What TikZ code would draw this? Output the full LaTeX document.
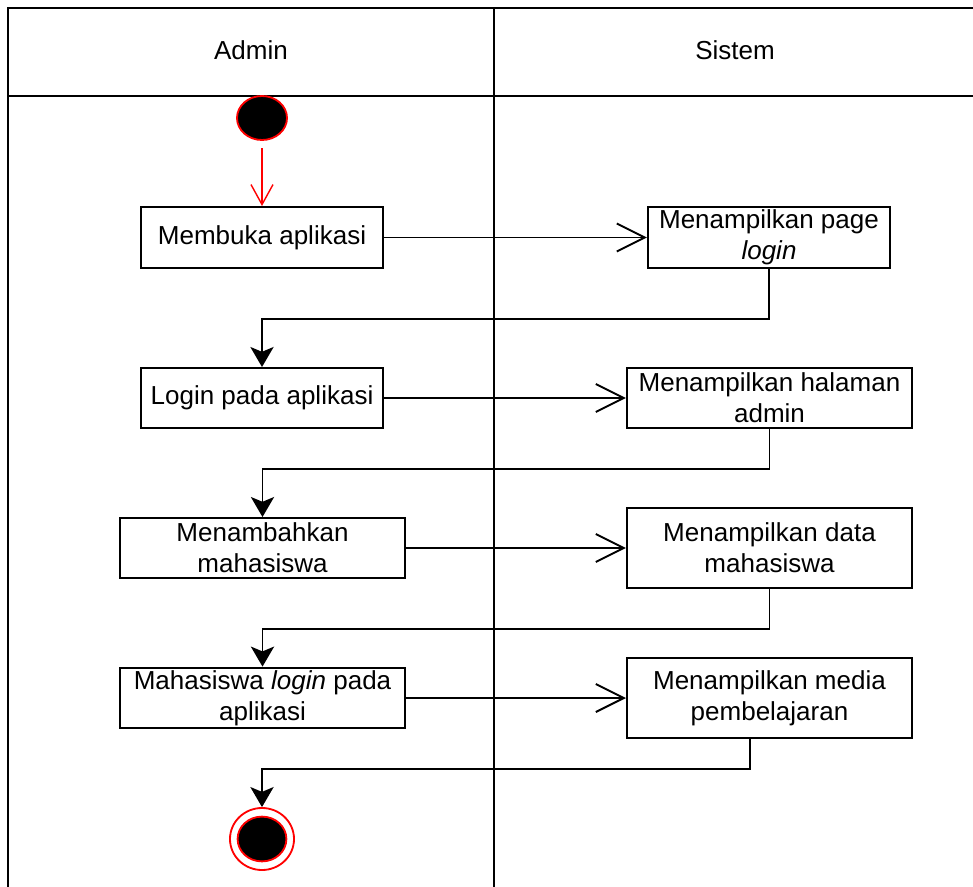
\documentclass[tikz,border=0pt]{standalone}
\usepackage{fontspec}
\setmainfont{Liberation Sans}
\usetikzlibrary{arrows.meta,shapes.geometric}

\begin{document}
\begin{tikzpicture}[x=0.025cm,y=-0.025cm,
        act/.style={draw, line width=1.4pt, align=center, inner sep=2pt,
            font=\fontsize{18.5}{22}\selectfont},
        lane/.style={font=\fontsize{18.5}{22}\selectfont},
        flow/.style={line width=1.4pt, -{Straight Barb[length=0.7cm,width=0.7cm]}},
        back/.style={line width=1.4pt, -{Stealth[length=0.5cm,width=0.58cm,inset=0.12cm]}}]
        \useasboundingbox (0,0) rectangle (973,887);

        % swimlanes
        \draw[line width=1.4pt] (973,8) -- (8,8) -- (8,887);
        \draw[line width=1.4pt] (8,96) -- (973,96);
        \draw[line width=1.4pt] (494,8) -- (494,887);
        \node[lane] (admin) at (251,50) {Admin};
        \node[lane] (sistem) at (735,50) {Sistem};

        \node[ellipse, draw=red, fill=black, line width=1.3pt, inner sep=0pt,
            minimum width=1.25cm, minimum height=1.1cm] (start) at (262,118) {};

        \node[act, minimum width=6.05cm, minimum height=1.525cm] (buka) at (262,237.5) {Membuka aplikasi};
        \node[act, minimum width=6.05cm, minimum height=1.525cm] (page) at (769,237.5) {Menampilkan page\\\textit{login}};
        \node[act, minimum width=6.05cm, minimum height=1.5cm] (login) at (262,398) {Login pada aplikasi};
        \node[act, minimum width=7.125cm, minimum height=1.5cm] (halaman) at (769.5,398) {Menampilkan halaman\\admin};
        \node[act, minimum width=7.125cm, minimum height=1.5cm] (tambah) at (262.5,548) {Menambahkan\\mahasiswa};
        \node[act, minimum width=7.125cm, minimum height=2cm] (data) at (769.5,548) {Menampilkan data\\mahasiswa};
        \node[act, minimum width=7.125cm, minimum height=1.5cm] (mhslogin) at (262.5,698) {Mahasiswa \textit{login} pada\\aplikasi};
        \node[act, minimum width=7.125cm, minimum height=2cm] (media) at (769.5,698) {Menampilkan media\\pembelajaran};

        \node[ellipse, draw=red, line width=1.3pt, inner sep=0pt,
            minimum width=1.6cm, minimum height=1.55cm] (end) at (262,839) {};
        \node[ellipse, draw=red, fill=black, line width=1.3pt, inner sep=0pt,
            minimum width=1.22cm, minimum height=1.12cm] (endin) at (end) {};

        \draw[red, line width=1pt, shorten <=0.18cm, -{Straight Barb[length=0.5cm,width=0.55cm]}] (start) -- (buka);

        \draw[flow] (buka) -- (page);
        \draw[flow] (login) -- (halaman);
        \draw[flow] (tambah) -- (data);
        \draw[flow] (mhslogin) -- (media);

        \draw[back] (page.south) -- ++(0,50) -| (login.north);
        \draw[back] (halaman.south) -- ++(0,40) -| (tambah.north);
        \draw[back] (data.south) -- ++(0,40) -| (mhslogin.north);
        \draw[back] ([xshift=-0.49cm]media.south) -- ++(0,30) -| (end.north);
\end{tikzpicture}
\end{document}
